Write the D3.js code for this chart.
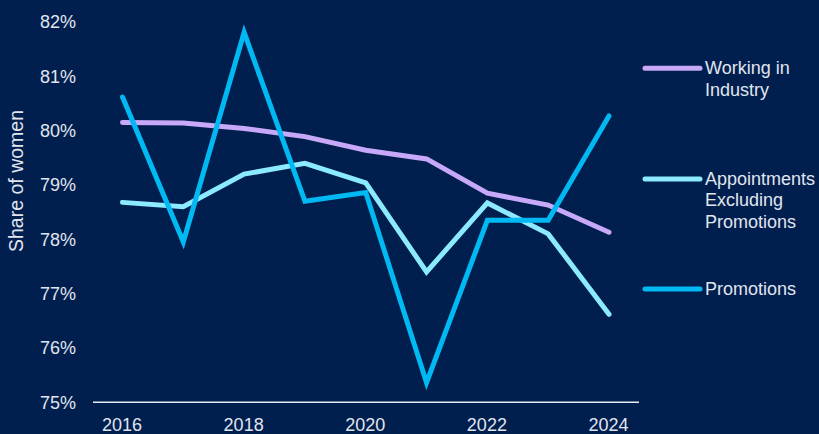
<!DOCTYPE html>
<html><head><meta charset="utf-8">
<script src="https://cdn.jsdelivr.net/npm/d3@7"></script>
<style>
html,body{margin:0;padding:0;background:#001f4f;}
svg{display:block;}
text{font-family:"Liberation Sans",Arial,sans-serif;}
</style></head>
<body><svg id="c" width="819" height="434"></svg>
<script>
const years = [2016, 2017, 2018, 2019, 2020, 2021, 2022, 2023, 2024];
const working = [80.15, 80.14, 80.04, 79.89, 79.64, 79.48, 78.85, 78.63, 78.13];
const appointments = [78.68, 78.60, 79.20, 79.40, 79.04, 77.40, 78.67, 78.10, 76.62];
const promotions = [80.62, 77.95, 81.81, 78.70, 78.86, 75.36, 78.35, 78.35, 80.27];
const seriesNames = [["Working in", "Industry"], ["Appointments", "Excluding", "Promotions"], ["Promotions"]];
const seriesColors = ["#c8a8f8", "#8ceaff", "#00b9f2"];
const yTicks = [75, 76, 77, 78, 79, 80, 81, 82];
const xTicks = [2016, 2018, 2020, 2022, 2024];

const svg = d3.select("#c");
const x = d3.scaleLinear().domain([2016, 2024]).range([122.5, 609]);
const y = d3.scaleLinear().domain([75, 82]).range([402.3, 22]);
const txt = "#e0e5ee";
const fs = "18px";

// baseline
svg.append("line").attr("x1", 93).attr("x2", 639).attr("y1", y(75)).attr("y2", y(75))
  .attr("stroke", "#e8ecf3").attr("stroke-width", 1.5);

// y axis labels
const yAxis = d3.axisLeft(y).tickValues(yTicks).tickFormat(d => d + "%").tickSize(0).tickPadding(0);
const gy = svg.append("g").attr("transform", "translate(76,0)").call(yAxis);
gy.select(".domain").remove();
gy.selectAll("text").attr("fill", txt).style("font-size", fs).attr("font-family", "Liberation Sans, Arial, sans-serif");

// x axis labels
const xAxis = d3.axisBottom(x).tickValues(xTicks).tickFormat(d3.format("d")).tickSize(0).tickPadding(0);
const gx = svg.append("g").attr("transform", "translate(-1,418)").call(xAxis);
gx.select(".domain").remove();
gx.selectAll("text").attr("fill", txt).style("font-size", fs).attr("font-family", "Liberation Sans, Arial, sans-serif");

// y title
svg.append("text").attr("transform", "translate(23,181) rotate(-90)").attr("text-anchor", "middle")
  .attr("fill", txt).style("font-size", "19.5px").text("Share of women");

const data = [working, appointments, promotions];
const line = d3.line().x((d, i) => x(years[i])).y(d => y(d));
data.forEach((s, k) => {
  svg.append("path").datum(s).attr("d", line).attr("fill", "none")
    .attr("stroke", seriesColors[k]).attr("stroke-width", 5)
    .attr("stroke-linecap", "round").attr("stroke-linejoin", "miter");
});

// legend
const legY = [68.3, 179, 289];
seriesNames.forEach((names, k) => {
  svg.append("line").attr("x1", 645).attr("x2", 700).attr("y1", legY[k]).attr("y2", legY[k])
    .attr("stroke", seriesColors[k]).attr("stroke-width", 5).attr("stroke-linecap", "round");
  const t = svg.append("text").attr("x", 705).attr("y", legY[k] + 6).attr("fill", txt).style("font-size", fs);
  names.forEach((n, j) => {
    t.append("tspan").attr("x", 705).attr("dy", j === 0 ? 0 : 21.3).text(n);
  });
});
</script>
</body></html>
